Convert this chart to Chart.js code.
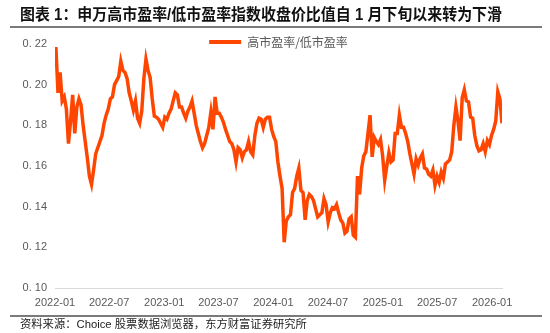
<!DOCTYPE html>
<html>
<head>
<meta charset="utf-8">
<script src="https://cdn.jsdelivr.net/npm/chart.js@4/dist/chart.umd.min.js"></script>
<style>
  html, body { margin: 0; padding: 0; background: #fff; }
  body { width: 550px; height: 333px; overflow: hidden; }
  #wrap { position: relative; width: 550px; height: 333px; }
</style>
</head>
<body>
<div id="wrap"><canvas id="chart"></canvas></div>
<script>
// Weekly closes of the high-PE / low-PE index ratio, first week starting 2022-01-04
const chartTitle = '图表 1：申万高市盈率/低市盈率指数收盘价比值自 1 月下旬以来转为下滑';
const sourceNote = '资料来源：Choice 股票数据浏览器，东方财富证券研究所';
const seriesName = '高市盈率/低市盈率';
const firstWeek = '2022-01-04';
const ratio = [
  0.2185,0.196,0.206,0.192,0.194,0.188,0.171,0.182,0.195,0.176,
  0.189,0.193,0.190,0.180,0.172,0.164,0.155,0.151,0.158,0.166,
  0.169,0.172,0.175,0.181,0.185,0.188,0.193,0.194,0.200,0.202,
  0.204,0.2115,0.207,0.206,0.203,0.196,0.192,0.1875,0.192,0.1835,
  0.181,0.187,0.203,0.2125,0.207,0.2035,0.193,0.1845,0.184,0.183,
  0.181,0.179,0.184,0.183,0.186,0.188,0.192,0.196,0.195,0.189,
  0.189,0.186,0.1835,0.187,0.189,0.192,0.186,0.180,0.176,0.172,
  0.169,0.171,0.175,0.179,0.1865,0.178,0.194,0.186,0.186,0.184,
  0.1815,0.178,0.175,0.172,0.171,0.168,0.162,0.169,0.168,0.164,
  0.167,0.168,0.172,0.167,0.1655,0.175,0.181,0.1835,0.183,0.179,
  0.183,0.184,0.184,0.178,0.1745,0.172,0.162,0.155,0.149,0.1225,
  0.133,0.135,0.136,0.147,0.149,0.155,0.159,0.148,0.147,0.1335,
  0.143,0.146,0.145,0.143,0.139,0.135,0.136,0.137,0.144,0.141,
  0.1325,0.137,0.1395,0.139,0.141,0.137,0.1335,0.132,0.127,0.128,
  0.134,0.135,0.126,0.125,0.155,0.146,0.159,0.165,0.167,0.176,
  0.185,0.1645,0.174,0.172,0.1705,0.173,0.165,0.153,0.160,0.1665,
  0.162,0.163,0.176,0.176,0.185,0.179,0.179,0.176,0.172,0.166,
  0.161,0.156,0.1635,0.1605,0.164,0.166,0.159,0.1585,0.156,0.155,
  0.158,0.1505,0.155,0.152,0.157,0.154,0.161,0.162,0.163,0.167,
  0.180,0.189,0.182,0.1725,0.1935,0.1975,0.192,0.1915,0.184,0.1835,
  0.175,0.170,0.1675,0.168,0.171,0.167,0.1725,0.1705,0.175,0.178,
  0.182,0.1965,0.193,0.181
];
const xTickLabels = ['2022-01','2022-07','2023-01','2023-07','2024-01','2024-07','2025-01','2025-07','2026-01'];
const yTickValues = [0.10, 0.12, 0.14, 0.16, 0.18, 0.20, 0.22];

const DAY = 86400000;
const origin = Date.UTC(2022, 0, 1);
const dayOf = s => { const [y, m, d] = s.split('-').map(Number); return (Date.UTC(y, m - 1, d || 1) - origin) / DAY; };
const start = dayOf(firstWeek);
const points = ratio.map((v, i) => ({ x: start + i * 7, y: v }));
const xTicks = xTickLabels.map(l => ({ value: dayOf(l), label: l }));

const ORANGE = '#FF4600';
const GREY = '#595959';
const RULE = '#7a7a7a';
const numFont = { family: '"Liberation Sans", Arial, sans-serif', size: 11 };
const cjkFont = '"Liberation Sans", "Noto Sans CJK SC", sans-serif';

// fixed legend band; the legend row is then nudged down onto the plot's top edge
const legendBand = {
  id: 'legendBand',
  afterInit(chart) {
    const lg = chart.legend;
    const fit = lg.fit;
    lg.fit = function () { fit.call(this); this.height = 14; };
  },
  afterLayout(chart) {
    const lg = chart.legend;
    lg.top += 5;
    lg.bottom += 5;
  }
};

// horizontal rules under the title and above the source note
const rules = {
  id: 'rules',
  afterDraw(chart) {
    const ctx = chart.ctx;
    ctx.save();
    ctx.strokeStyle = RULE;
    ctx.lineWidth = 2;
    ctx.beginPath();
    ctx.moveTo(10, 27); ctx.lineTo(542, 27);
    ctx.moveTo(10, 316); ctx.lineTo(542, 316);
    ctx.stroke();
    ctx.restore();
  }
};

new Chart(document.getElementById('chart'), {
  type: 'line',
  data: {
    datasets: [{
      label: seriesName,
      data: points,
      borderColor: ORANGE,
      backgroundColor: ORANGE,
      borderWidth: 3.5,
      pointRadius: 0,
      tension: 0,
      fill: false
    }]
  },
  options: {
    responsive: true,
    maintainAspectRatio: false,
    animation: false,
    layout: { padding: { left: 20, right: 48, top: 0, bottom: 0 } },
    plugins: {
      tooltip: { enabled: false },
      title: {
        display: true,
        text: chartTitle,
        align: 'start',
        color: '#111',
        font: { family: cjkFont, size: 16, weight: 'bold', lineHeight: 1.2 },
        padding: { top: 6, bottom: 4.8 }
      },
      subtitle: {
        display: true,
        position: 'bottom',
        text: sourceNote,
        align: 'start',
        color: '#222',
        font: { family: cjkFont, size: 11.3, weight: 'normal', lineHeight: 1.2 },
        padding: { top: 9.2, bottom: 1.24 }
      },
      legend: {
        position: 'top',
        fullSize: false,
        align: 'center',
        labels: {
          boxWidth: 32,
          boxHeight: 4,
          padding: 1,
          color: GREY,
          font: { family: '"Noto Sans CJK SC", sans-serif', size: 12 },
          generateLabels(chart) {
            return Chart.defaults.plugins.legend.labels.generateLabels(chart)
              .map(item => Object.assign(item, { lineWidth: 0 }));
          }
        }
      }
    },
    scales: {
      x: {
        type: 'linear',
        min: 0,
        max: points[points.length - 1].x,
        grid: { display: false, drawTicks: false },
        border: { display: true, color: '#d9d9d9', width: 1 },
        afterBuildTicks(scale) { scale.ticks = xTicks.map(t => ({ value: t.value })); },
        afterFit(scale) { scale.height = 21; },
        ticks: {
          autoSkip: false,
          maxRotation: 0,
          padding: 8,
          color: GREY,
          font: numFont,
          callback(value) {
            const t = xTicks.find(t => t.value === value);
            return t ? t.label : '';
          }
        }
      },
      y: {
        min: 0.10,
        max: 0.22,
        grid: { display: false, drawTicks: false },
        border: { display: false },
        afterBuildTicks(scale) { scale.ticks = yTickValues.map(v => ({ value: v })); },
        afterFit(scale) { scale.width = 35; },
        ticks: {
          padding: 8,
          color: GREY,
          font: numFont,
          callback(value) { return value.toFixed(2).replace('.', '. '); }
        }
      }
    }
  },
  plugins: [legendBand, rules]
});
</script>
</body>
</html>
